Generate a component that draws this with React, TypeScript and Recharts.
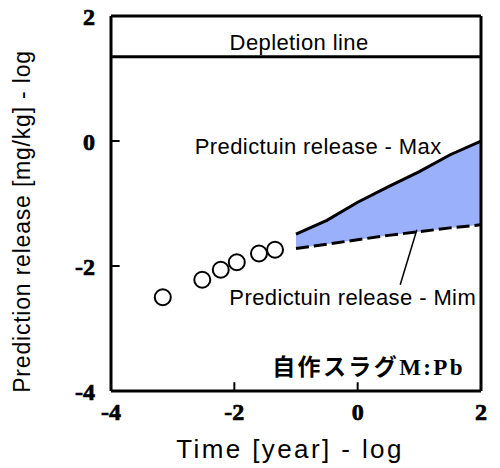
import React from "react";
import {
  ComposedChart,
  XAxis,
  YAxis,
  Line,
  Area,
  Scatter,
  ReferenceLine,
  ReferenceDot,
} from "recharts";

// measured release (log-log)
const obsX = [-3.16, -2.52, -2.22, -1.96, -1.6, -1.34];
const obsY = [-2.5, -2.22, -2.06, -1.94, -1.8, -1.74];

// prediction band
const predX = [-1, -0.5, 0, 0.5, 1, 1.5, 2];
const predMax = [-1.49, -1.27, -0.98, -0.73, -0.49, -0.22, 0];
const predMin = [-1.72, -1.65, -1.58, -1.51, -1.45, -1.39, -1.34];

const depletion = 1.35;
const xTicks = [-4, -2, 0, 2];
const yTicks = [-4, -2, 0, 2];
const innerXTicks = [-2, 0];
const innerYTicks = [-2, 0];

const obs = obsX.map((x, i) => ({ x, y: obsY[i] }));
const pred = predX.map((x, i) => ({
  x,
  max: predMax[i],
  min: predMin[i],
  band: [predMin[i], predMax[i]],
}));

const SANS = "'Liberation Sans', Arial, sans-serif";
const SERIF = "'Liberation Serif', 'Times New Roman', serif";

const tickStyle = {
  fill: "#000",
  stroke: "#000",
  strokeWidth: 0.7,
  fontSize: 24,
  fontWeight: 700,
  fontFamily: SERIF,
};

const label = (text: string) => (p: any) => (
  <text x={p.cx} y={p.cy} textAnchor="middle" dominantBaseline="central" fontFamily={SANS} fontSize={22} letterSpacing={0.4} fill="#000">
    {text}
  </text>
);

const Ring = (p: any) => <circle cx={p.cx} cy={p.cy} r={8} fill="#fff" stroke="#000" strokeWidth={2} />;

const XTitle = (p: any) => {
  const vb = p.viewBox;
  return (
    <text x={vb.x + vb.width / 2 - 6} y={vb.y + 67} textAnchor="middle" fontFamily={SANS} fontSize={26} letterSpacing={2.4} fill="#000">
      Time [year] - log
    </text>
  );
};

const YTitle = (p: any) => {
  const vb = p.viewBox;
  const cy = vb.y + vb.height / 2 + 18;
  return (
    <text x={30} y={cy} transform={`rotate(-90, 30, ${cy})`} textAnchor="middle" fontFamily={SANS} fontSize={23} letterSpacing={0.8} fill="#000">
      Prediction release [mg/kg] - log
    </text>
  );
};

export default function App() {
  return (
    <div style={{ position: "absolute", left: 0, top: 0, width: 500, height: 468, background: "#fff" }}>
      <ComposedChart width={500} height={468} data={pred} margin={{ top: 16, right: 19, bottom: 0, left: 0 }}>
        <XAxis
          dataKey="x"
          type="number"
          domain={[-4, 2]}
          ticks={xTicks}
          height={77}
          axisLine={{ stroke: "#000", strokeWidth: 3 }}
          tickLine={false}
          tickSize={0}
          tickMargin={12}
          tick={tickStyle}
          interval={0}
          allowDataOverflow
          label={<XTitle />}
        />
        <YAxis
          type="number"
          domain={[-4, 2]}
          ticks={yTicks}
          width={111}
          axisLine={{ stroke: "#000", strokeWidth: 3 }}
          tickLine={false}
          tickSize={0}
          tickMargin={16}
          tick={tickStyle}
          interval={0}
          allowDataOverflow
          label={<YTitle />}
        />
        <ReferenceLine y={2} stroke="#000" strokeWidth={3} />
        <ReferenceLine x={2} stroke="#000" strokeWidth={3} />
        <ReferenceLine y={depletion} stroke="#000" strokeWidth={3} />
        {innerXTicks.map((t) => (
          <ReferenceLine key={`xt${t}`} segment={[{ x: t, y: -4 }, { x: t, y: -3.86 }]} stroke="#000" strokeWidth={2} />
        ))}
        {innerYTicks.map((t) => (
          <ReferenceLine key={`yt${t}`} segment={[{ x: -4, y: t }, { x: -3.86, y: t }]} stroke="#000" strokeWidth={2} />
        ))}
        <Area dataKey="band" type="linear" fill="#9AB0FA" fillOpacity={1} stroke="none" isAnimationActive={false} />
        <Line dataKey="max" type="linear" stroke="#000" strokeWidth={3} dot={false} isAnimationActive={false} />
        <Line dataKey="min" type="linear" stroke="#000" strokeWidth={3} strokeDasharray="13 5" dot={false} isAnimationActive={false} />
        <Scatter data={obs} dataKey="y" shape={<Ring />} isAnimationActive={false} />
        <ReferenceLine segment={[{ x: 0.96, y: -1.42 }, { x: 0.69, y: -2.3 }]} stroke="#000" strokeWidth={1.5} />
        <ReferenceDot x={-0.95} y={1.58} r={0} shape={label("Depletion line")} />
        <ReferenceDot x={-0.64} y={-0.08} r={0} shape={label("Predictuin release  -  Max")} />
        <ReferenceDot x={-0.08} y={-2.51} r={0} shape={label("Predictuin release  -  Mim")} />
        <ReferenceDot
          x={1.74}
          y={-3.74}
          r={0}
          shape={(p: any) => (
            <text x={p.cx} y={p.cy} textAnchor="end" fontSize={23} letterSpacing={2.4} fontWeight={700} fill="#000">
              <tspan fontFamily="'Noto Sans CJK JP', sans-serif">自作スラグ</tspan>
              <tspan fontFamily={SERIF}>M:Pb</tspan>
            </text>
          )}
        />
      </ComposedChart>
    </div>
  );
}
